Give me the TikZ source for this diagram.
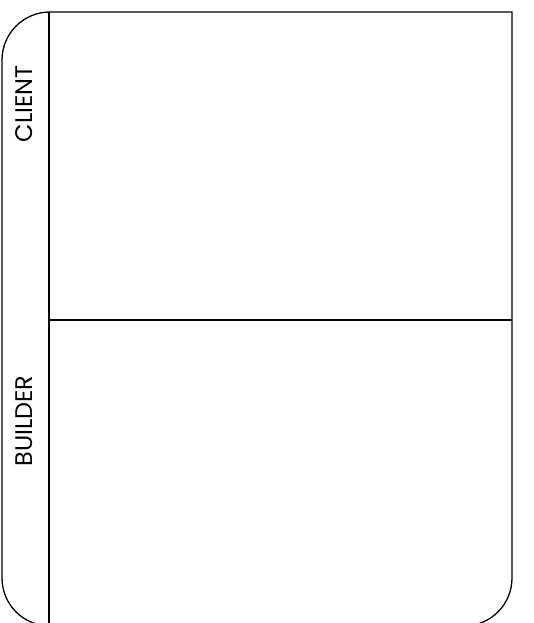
\documentclass[tikz,border=0pt]{standalone}
\usepackage{fontspec}
\setmainfont{Poppins}
\begin{document}
\begin{tikzpicture}[x=1pt,y=1pt,
  edge/.style={draw=black,line width=1.3pt},
  lanelabel/.style={rotate=90,font=\fontsize{24}{28}\selectfont\fontseries{l}\selectfont,inner sep=0pt}]
\useasboundingbox (0,0) rectangle (533,-623);
\clip (0,0) rectangle (533,-623);
\coordinate (tl) at (50,-12);
\coordinate (tr) at (512,-12);
\coordinate (divtop) at (49,-12);
\coordinate (divbot) at (49,-640);
\coordinate (midl) at (49,-320);
\coordinate (midr) at (512,-320);
\draw[edge] (tl) -- (tr) -- (512,-578) arc[start angle=0,end angle=-90,radius=48]
  -- (50,-626) arc[start angle=270,end angle=180,radius=48]
  -- (2,-60) arc[start angle=180,end angle=90,radius=48] -- cycle;
\draw[edge] (divtop) -- (divbot);
\draw[edge] (midl) -- (midr);
\node[lanelabel] (client) at (24,-104) {CLIENT};
\node[lanelabel] (builder) at (24,-421) {BUILDER};
\end{tikzpicture}
\end{document}
